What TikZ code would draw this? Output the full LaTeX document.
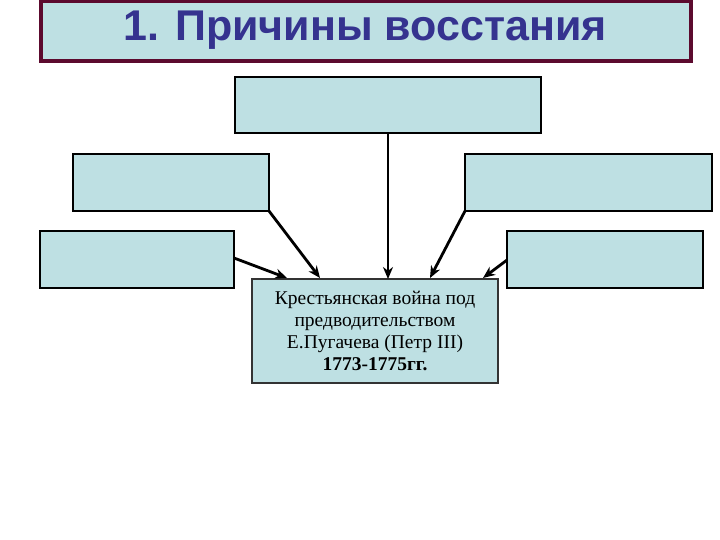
\documentclass[tikz,border=0pt]{standalone}
\usepackage{fontspec}
\setmainfont{Liberation Serif}
\newfontfamily\titlefont{Liberation Sans}
\usetikzlibrary{arrows.meta}
\definecolor{boxfill}{HTML}{BEE0E3}
\definecolor{titleborder}{HTML}{5C0A2E}
\definecolor{titletext}{HTML}{35338F}
\tikzset{
  causebox/.style={draw=black, line width=2.2pt, fill=boxfill},
  arr/.style={line width=2.8pt, -{Stealth[length=12pt,width=10pt]}}
}
\begin{document}
\begin{tikzpicture}[x=1pt,y=-1pt]
\useasboundingbox (0,0) rectangle (720,540);
\fill[white] (0,0) rectangle (720,540);
% title
\node[draw=titleborder, line width=3.5pt, fill=boxfill, minimum width=650pt, minimum height=60pt, inner sep=0pt] (title) at (366,31) {};
\node[text=titletext, font=\titlefont\bfseries\fontsize{43}{48}\selectfont] (ttl) at (365,30) {1. Причины восстания};
% boxes
\path[causebox] (235,77) rectangle (541,133);
\coordinate (topb) at (388,133);
\path[causebox] (73,154) rectangle (269,211);
\coordinate (lmb) at (269,211);
\path[causebox] (465,154) rectangle (712,211);
\coordinate (rmb) at (465,211);
\path[causebox] (40,231) rectangle (234,288);
\coordinate (llb) at (234,258);
\path[causebox] (507,231) rectangle (703,288);
\coordinate (rlb) at (507,260);
% center
\node[draw=black!80, line width=1.5pt, fill=boxfill, minimum width=246pt, minimum height=104pt, inner sep=0pt] (center) at (375,331) {};
\node[font=\fontsize{19.5}{21.8}\selectfont, align=center] (ctext) at (375,331) {Крестьянская война под\\предводительством\\Е.Пугачева (Петр III)\\\textbf{1773-1775гг.}};
\coordinate (c1) at (388,279);
\coordinate (c2) at (320,278);
\coordinate (c3) at (287,278);
\coordinate (c4) at (430,278);
\coordinate (c5) at (483,278);
\draw[arr] (topb) -- (c1);
\draw[arr] (lmb) -- (c2);
\draw[arr] (llb) -- (c3);
\draw[arr] (rmb) -- (c4);
\draw[arr] (rlb) -- (c5);
\end{tikzpicture}
\end{document}
